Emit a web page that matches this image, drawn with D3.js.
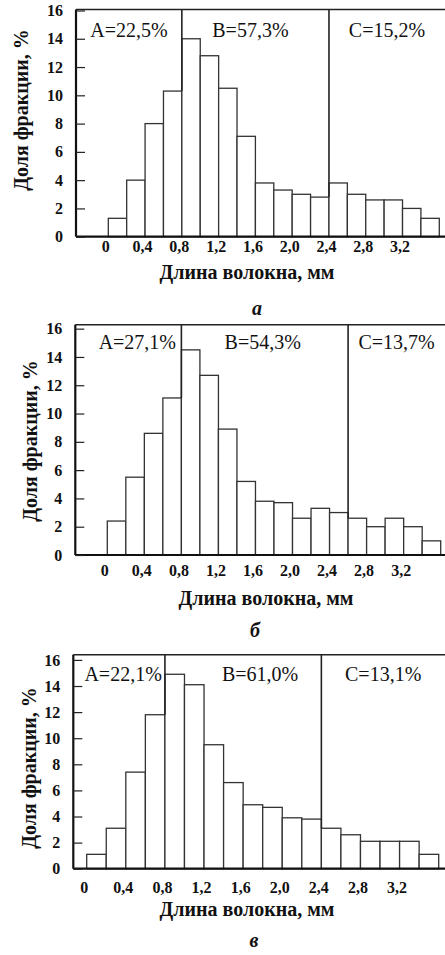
<!DOCTYPE html>
<html>
<head>
<meta charset="utf-8">
<script src="https://cdn.jsdelivr.net/npm/d3@7"></script>
<style>
  body { margin: 0; background: #fff; }
  svg { display: block; }
  text { font-family: "Liberation Serif", "Times New Roman", serif; fill: #111; }
</style>
</head>
<body>
<script>
const width = 445;
const height = 955;

// fibre length classes, mm (left edge of each 0.2 mm bin)
const binStarts = [0, 0.2, 0.4, 0.6, 0.8, 1.0, 1.2, 1.4, 1.6, 1.8, 2.0, 2.2, 2.4, 2.6, 2.8, 3.0, 3.2, 3.4];
const binWidth = 0.2;

// share of fraction, %
const valuesA = [1.3, 4.0, 8.0, 10.3, 14.0, 12.8, 10.5, 7.1, 3.8, 3.3, 3.0, 2.8, 3.8, 3.0, 2.6, 2.6, 2.0, 1.3];
const valuesB = [2.4, 5.5, 8.6, 11.1, 14.5, 12.7, 8.9, 5.2, 3.8, 3.7, 2.6, 3.3, 3.0, 2.6, 2.0, 2.6, 2.0, 1.0];
const valuesC = [1.1, 3.1, 7.4, 11.8, 14.9, 14.1, 9.5, 6.6, 4.9, 4.7, 3.9, 3.8, 3.1, 2.6, 2.1, 2.1, 2.1, 1.1];

// borders between groups A / B / C, mm
const dividersA = [0.8, 2.4];
const dividersB = [0.8, 2.6];
const dividersC = [0.8, 2.4];

const sharesA = ['A=22,5%', 'B=57,3%', 'C=15,2%'];
const sharesB = ['A=27,1%', 'B=54,3%', 'C=13,7%'];
const sharesC = ['A=22,1%', 'B=61,0%', 'C=13,1%'];

const xTicks = [0, 0.4, 0.8, 1.2, 1.6, 2.0, 2.4, 2.8, 3.2];
const yTicks = [0, 2, 4, 6, 8, 10, 12, 14, 16];
const letters = ['а', 'б', 'в'];

const xTitle = 'Длина волокна, мм';
const yTitle = 'Доля фракции, %';

// layout of each panel (pixels)
const panels = [
  { values: valuesA, dividers: dividersA, shares: sharesA, letter: letters[0],
    left: 76, top: 9.5, bottom: 236.7, x0: 108.3, x1: 439.3, yMax: 16.07,
    xLabelDy: 15, xTitleY: 279, xTitleX: 247, yTitleX: 27.5, yTitleY: 110,
    letterY: 315, letterX: 257, shareDy: 27.5, shareDx: [0, -5, 0] },
  { values: valuesB, dividers: dividersB, shares: sharesB, letter: letters[1],
    left: 75.3, top: 324.7, bottom: 555, x0: 107.3, x1: 440.7, yMax: 16.28,
    xLabelDy: 21, xTitleY: 605, xTitleX: 266, yTitleX: 37, yTitleY: 441,
    letterY: 637, letterX: 255, shareDy: 24.6, shareDx: [9, -2, 0] },
  { values: valuesC, dividers: dividersC, shares: sharesC, letter: letters[2],
    left: 73.3, top: 654.7, bottom: 868.7, x0: 86.7, x1: 438.7, yMax: 16.4,
    xLabelDy: 24.6, xTitleY: 915.5, xTitleX: 247, yTitleX: 36, yTitleY: 768,
    letterY: 947, letterX: 254, shareDy: 26, shareDx: [4, 17, 0] }
];

const rightEdge = 447;
const fmt = d => d === 0 ? '0' : d3.format('.1f')(d).replace('.', ',');

const svg = d3.select('body')
  .append('svg')
  .attr('width', width)
  .attr('height', height);

panels.forEach(p => {
  const x = d3.scaleLinear().domain([0, 3.6]).range([p.x0, p.x1]);
  const y = d3.scaleLinear().domain([0, p.yMax]).range([p.bottom, p.top]);
  const g = svg.append('g');

  // bars
  g.selectAll('rect.bar')
    .data(binStarts.map((s, i) => ({ s, v: p.values[i] })))
    .enter()
    .append('rect')
    .attr('class', 'bar')
    .attr('x', d => x(d.s))
    .attr('y', d => y(d.v))
    .attr('width', d => x(d.s + binWidth) - x(d.s))
    .attr('height', d => y(0) - y(d.v))
    .attr('fill', '#fff')
    .attr('stroke', '#333')
    .attr('stroke-width', 1.3);

  // group dividers
  g.selectAll('line.div')
    .data(p.dividers)
    .enter()
    .append('line')
    .attr('x1', d => x(d))
    .attr('x2', d => x(d))
    .attr('y1', p.top)
    .attr('y2', d => {
      const i = binStarts.findIndex(s => Math.abs(s - d) < 1e-6);
      return y(Math.min(p.values[i], p.values[i - 1]));
    })
    .attr('stroke', '#222')
    .attr('stroke-width', 1.6);

  // frame
  g.append('line')
    .attr('x1', p.left).attr('x2', rightEdge)
    .attr('y1', p.top).attr('y2', p.top)
    .attr('stroke', '#222').attr('stroke-width', 1.6);
  g.append('line')
    .attr('x1', p.left).attr('x2', rightEdge)
    .attr('y1', p.bottom).attr('y2', p.bottom)
    .attr('stroke', '#111').attr('stroke-width', 2.2);
  g.append('line')
    .attr('x1', p.left).attr('x2', p.left)
    .attr('y1', p.top).attr('y2', p.bottom)
    .attr('stroke', '#111').attr('stroke-width', 2.2);

  // y axis
  const yAxis = g.append('g')
    .attr('transform', `translate(${p.left},0)`)
    .call(d3.axisLeft(y).tickValues(yTicks).tickSizeInner(-9).tickSizeOuter(0).tickPadding(13));
  yAxis.select('.domain').remove();
  yAxis.selectAll('line').attr('stroke', '#222').attr('stroke-width', 1.2);
  yAxis.selectAll('text')
    .attr('font-family', '"Liberation Serif", serif')
    .attr('font-size', 16)
    .attr('font-weight', 'bold')
    .attr('fill', '#111');

  // x axis labels
  const xAxis = g.append('g')
    .attr('transform', `translate(0,${p.bottom})`)
    .call(d3.axisBottom(x).tickValues(xTicks).tickFormat(fmt).tickSize(0).tickPadding(0));
  xAxis.select('.domain').remove();
  xAxis.selectAll('text')
    .attr('dy', p.xLabelDy)
    .attr('dx', -3)
    .attr('font-family', '"Liberation Serif", serif')
    .attr('font-size', 16)
    .attr('font-weight', 'bold')
    .attr('fill', '#111');

  // share labels for groups A, B, C
  const bounds = [p.left, x(p.dividers[0]), x(p.dividers[1]), rightEdge - 2];
  g.selectAll('text.share')
    .data(p.shares)
    .enter()
    .append('text')
    .attr('x', (d, i) => (bounds[i] + bounds[i + 1]) / 2 + p.shareDx[i])
    .attr('y', p.top + p.shareDy)
    .attr('text-anchor', 'middle')
    .attr('font-size', 20)
    .text(d => d);

  // axis titles
  g.append('text')
    .attr('x', p.xTitleX)
    .attr('y', p.xTitleY)
    .attr('text-anchor', 'middle')
    .attr('font-size', 20)
    .attr('font-weight', 'bold')
    .text(xTitle);

  g.append('text')
    .attr('transform', `translate(${p.yTitleX},${p.yTitleY}) rotate(-90)`)
    .attr('text-anchor', 'middle')
    .attr('font-size', 20)
    .attr('font-weight', 'bold')
    .text(yTitle);

  g.append('text')
    .attr('x', p.letterX)
    .attr('y', p.letterY)
    .attr('text-anchor', 'middle')
    .attr('font-size', 20)
    .attr('font-weight', 'bold')
    .attr('font-style', 'italic')
    .text(p.letter);
});
</script>
</body>
</html>
